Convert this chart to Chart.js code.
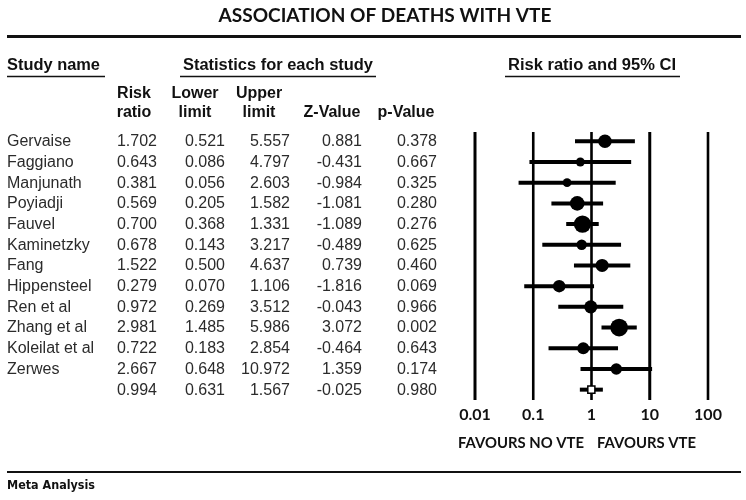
<!DOCTYPE html>
<html>
<head>
<meta charset="utf-8">
<script src="https://cdn.jsdelivr.net/npm/chart.js@4.4.1/dist/chart.umd.min.js"></script>
<style>
    html, body { margin: 0; padding: 0; background: #fff; }
    #forestChart { display: block; }
</style>
</head>
<body>
<canvas id="forestChart" width="746" height="500"></canvas>
<script>
// --- Data ---
const studyNames = ['Gervaise', 'Faggiano', 'Manjunath', 'Poyiadji', 'Fauvel', 'Kaminetzky', 'Fang',
    'Hippensteel', 'Ren et al', 'Zhang et al', 'Koleilat et al', 'Zerwes', ''];
const riskRatio = [1.702, 0.643, 0.381, 0.569, 0.700, 0.678, 1.522, 0.279, 0.972, 2.981, 0.722, 2.667, 0.994];
const lowerLimit = [0.521, 0.086, 0.056, 0.205, 0.368, 0.143, 0.500, 0.070, 0.269, 1.485, 0.183, 0.648, 0.631];
const upperLimit = [5.557, 4.797, 2.603, 1.582, 1.331, 3.217, 4.637, 1.106, 3.512, 5.986, 2.854, 10.972, 1.567];
const zValue = ['0.881', '-0.431', '-0.984', '-1.081', '-1.089', '-0.489', '0.739', '-1.816', '-0.043', '3.072', '-0.464', '1.359', '-0.025'];
const pValue = ['0.378', '0.667', '0.325', '0.280', '0.276', '0.625', '0.460', '0.069', '0.966', '0.002', '0.643', '0.174', '0.980'];
// relative weight of each study (marker area)
const weights = [10.4, 1.7, 1.5, 13.3, 22.9, 3.7, 9.3, 7.7, 9.3, 24.6, 6.8, 5.5];
const tickValues = [0.01, 0.1, 1, 10, 100];
const tickLabels = ['0.01', '0.1', '1', '10', '100'];

document.addEventListener('DOMContentLoaded', () => {

    const SUMMARY = studyNames.length - 1;
    const TEXT = '#2b2b2b';

    // draw text squeezed/stretched to a given width
    const fitText = (ctx, text, x, y, font, width, align) => {
        ctx.save();
        ctx.font = font;
        const w = ctx.measureText(text).width;
        const sx = width ? width / w : 1;
        let left = x;
        if (align === 'center') left = x - (w * sx) / 2;
        if (align === 'right') left = x - w * sx;
        ctx.translate(left, y);
        ctx.scale(sx, 1);
        ctx.textAlign = 'left';
        ctx.textBaseline = 'middle';
        ctx.fillText(text, 0, 0);
        ctx.restore();
    };

    const hLine = (ctx, x1, x2, y, w) => {
        ctx.save();
        ctx.strokeStyle = '#111';
        ctx.lineWidth = w;
        ctx.beginPath();
        ctx.moveTo(x1, y);
        ctx.lineTo(x2, y);
        ctx.stroke();
        ctx.restore();
    };

    // -----------------------------
    // --- Datasets ---
    // -----------------------------
    const studyPoints = {
        type: 'scatter',
        order: 0,
        data: riskRatio.slice(0, SUMMARY).map((v, i) => ({ x: v, y: i })),
        backgroundColor: '#000',
        borderColor: '#000',
        borderWidth: 0,
        pointRadius: weights.map(w => 2.9 + 1.2 * Math.sqrt(w)),
    };

    const summaryPoint = {
        type: 'scatter',
        order: 0,
        data: [{ x: riskRatio[SUMMARY], y: SUMMARY }],
        pointStyle: 'rect',
        backgroundColor: '#fff',
        borderColor: '#000',
        borderWidth: 1.5,
        pointRadius: 5,
    };

    const whiskers = studyNames.map((name, i) => ({
        type: 'line',
        order: 1,
        data: [{ x: lowerLimit[i], y: i }, { x: upperLimit[i], y: i }],
        borderColor: '#000',
        borderWidth: 4,
        borderCapStyle: 'butt',
        pointRadius: 0,
        showLine: true,
    }));

    // -----------------------------
    // --- Table + decorations plugin ---
    // -----------------------------
    const forestDecor = {
        id: 'forestDecor',
        beforeDatasetsDraw: (chart) => {
            const { ctx, scales: { x }, chartArea } = chart;
            ctx.save();
            ctx.strokeStyle = '#000';
            tickValues.forEach((t, i) => {
                const px = x.getPixelForValue(t);
                ctx.lineWidth = (i === 0 || i === 3) ? 3 : 2.6;
                ctx.beginPath();
                ctx.moveTo(px, chartArea.top);
                ctx.lineTo(px, chartArea.bottom);
                ctx.stroke();
            });
            ctx.restore();
        },
        afterDraw: (chart) => {
            const { ctx, scales: { x, y } } = chart;
            ctx.save();

            // title + top rule
            ctx.fillStyle = '#111';
            fitText(ctx, 'ASSOCIATION OF DEATHS WITH VTE', 385, 15.5, '700 19px Lato', 333, 'center');
            hLine(ctx, 7, 741, 36.5, 3);

            // group headers
            const hdrFont = '700 16px "Liberation Sans", Arial, sans-serif';
            fitText(ctx, 'Study name', 7, 66, hdrFont, 93, 'left');
            fitText(ctx, 'Statistics for each study', 183, 66, hdrFont, 190, 'left');
            fitText(ctx, 'Risk ratio and 95% CI', 508, 66, hdrFont, 168, 'left');
            hLine(ctx, 7, 105, 76.5, 1.5);
            hLine(ctx, 180, 376, 76.5, 1.5);
            hLine(ctx, 505, 680, 76.5, 1.5);

            // column headers
            const colHdr = [['Risk', 'ratio', 134], ['Lower', 'limit', 195], ['Upper', 'limit', 259],
                ['', 'Z-Value', 332], ['', 'p-Value', 406]];
            colHdr.forEach(([l1, l2, cx]) => {
                if (l1) fitText(ctx, l1, cx, 94, hdrFont, 0, 'center');
                fitText(ctx, l2, cx, 113, hdrFont, 0, 'center');
            });

            // table rows
            ctx.fillStyle = TEXT;
            const bodyFont = '16px "Liberation Sans", Arial, sans-serif';
            studyNames.forEach((name, i) => {
                const py = y.getPixelForValue(i) + 0.5;
                fitText(ctx, name, 7, py, bodyFont, 0, 'left');
                fitText(ctx, riskRatio[i].toFixed(3), 157, py, bodyFont, 0, 'right');
                fitText(ctx, lowerLimit[i].toFixed(3), 225, py, bodyFont, 0, 'right');
                fitText(ctx, upperLimit[i].toFixed(3), 290, py, bodyFont, 0, 'right');
                fitText(ctx, zValue[i], 362, py, bodyFont, 0, 'right');
                fitText(ctx, pValue[i], 437, py, bodyFont, 0, 'right');
            });

            // axis tick labels
            ctx.fillStyle = '#111';
            tickValues.forEach((t, i) => {
                fitText(ctx, tickLabels[i], x.getPixelForValue(t), 415, '700 16px Lato', 0, 'center');
            });
            fitText(ctx, 'FAVOURS NO VTE', 521, 443, '700 15px Lato', 126, 'center');
            fitText(ctx, 'FAVOURS VTE', 646.5, 443, '700 15px Lato', 99, 'center');

            // footer
            hLine(ctx, 7, 741, 472, 2);
            fitText(ctx, 'Meta Analysis', 7, 486, '700 12px "DejaVu Sans", sans-serif', 88, 'left');

            ctx.restore();
        }
    };

    // -----------------------------
    // --- Chart ---
    // -----------------------------
    new Chart(document.getElementById('forestChart'), {
        type: 'scatter',
        data: { datasets: [studyPoints, summaryPoint, ...whiskers] },
        plugins: [forestDecor],
        options: {
            responsive: false,
            animation: false,
            layout: { padding: { left: 475, right: 38, top: 132, bottom: 100 } },
            plugins: {
                legend: { display: false },
                tooltip: { enabled: false }
            },
            scales: {
                x: { type: 'logarithmic', min: 0.01, max: 100, display: false },
                y: { type: 'linear', min: -0.45, max: 12.5, reverse: true, display: false }
            }
        }
    });

});
</script>
</body>
</html>
